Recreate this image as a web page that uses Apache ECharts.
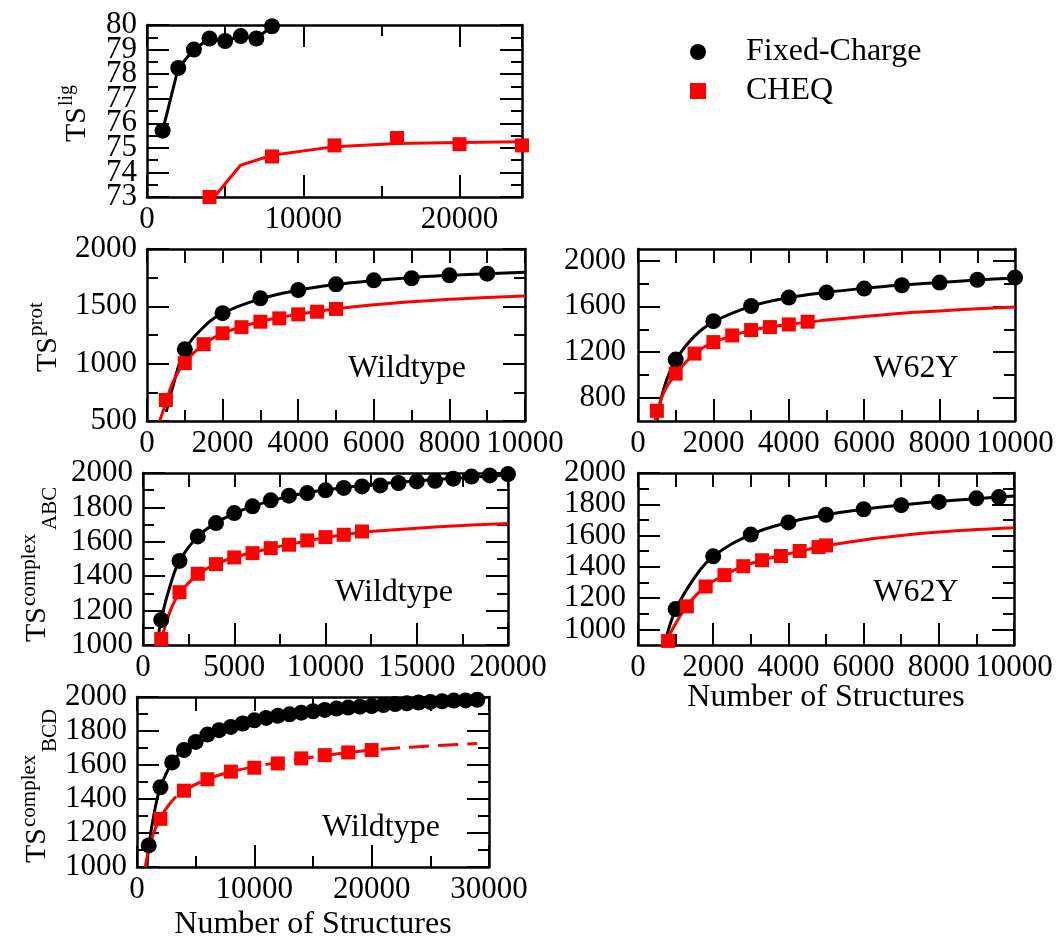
<!DOCTYPE html>
<html>
<head>
<meta charset="utf-8">
<script src="https://cdn.jsdelivr.net/npm/echarts@6/dist/echarts.min.js"></script>
<style>
  html, body { margin: 0; padding: 0; background: #fff; }
  #main { width: 1060px; height: 943px; }
</style>
</head>
<body>
<div id="main"></div>
<script>
// values, [structures, TS]

// ligand
var ligFixed = [[1000, 75.7], [2000, 78.25], [3000, 79.0], [4000, 79.45], [5000, 79.35], [6000, 79.55], [7000, 79.45], [8000, 79.95]];
var ligCheq = [[4000, 73.0], [8000, 74.65], [12000, 75.1], [16000, 75.4], [20000, 75.15], [24000, 75.1]];
var ligCheqFit = [[4300, 73.0], [6000, 74.3], [8000, 74.7], [12000, 75.05], [16000, 75.18], [20000, 75.22], [24000, 75.25]];

// protein, wildtype
var protWtFixed = [[1000, 1125], [2000, 1440], [3000, 1570], [4000, 1642], [5000, 1692], [6000, 1727], [7000, 1745], [8000, 1770], [9000, 1785]];
var protWtCheq = [[500, 683], [1000, 1005], [1500, 1170], [2000, 1265], [2500, 1318], [3000, 1366], [3500, 1395], [4000, 1430], [4500, 1453], [5000, 1477]];
var protWtFixedFit = [[510, 580], [690, 810], [1000, 1115], [1500, 1320], [2000, 1440], [3000, 1565], [4000, 1640], [5000, 1690], [6000, 1725], [7000, 1752], [8000, 1770], [9000, 1785], [10000, 1797]];
var protWtCheqFit = [[335, 500], [500, 660], [700, 850], [1000, 1010], [1500, 1170], [2000, 1265], [3000, 1368], [4000, 1430], [5000, 1477], [6000, 1513], [7000, 1540], [8000, 1562], [9000, 1578], [10000, 1590]];

// protein, W62Y
var protMutFixed = [[1000, 1136], [2000, 1471], [3000, 1603], [4000, 1676], [5000, 1720], [6000, 1755], [7000, 1784], [8000, 1807], [9000, 1831], [10000, 1851]];
var protMutCheq = [[500, 689], [1000, 1013], [1500, 1188], [2000, 1288], [2500, 1346], [3000, 1393], [3500, 1419], [4000, 1442], [4500, 1466]];
var protMutFixedFit = [[500, 600], [700, 900], [1000, 1130], [1500, 1340], [2000, 1465], [3000, 1600], [4000, 1675], [5000, 1722], [6000, 1757], [7000, 1785], [8000, 1808], [9000, 1830], [10000, 1848]];
var protMutCheqFit = [[460, 600], [500, 660], [700, 860], [1000, 1010], [1500, 1185], [2000, 1285], [3000, 1390], [4000, 1442], [5000, 1480], [6000, 1512], [7000, 1540], [8000, 1560], [9000, 1578], [10000, 1594]];

// complex ABC, wildtype
var abcWtFixed = [[1000, 1146], [2000, 1489], [3000, 1631], [4000, 1709], [5000, 1767], [6000, 1806], [7000, 1841], [8000, 1868], [9000, 1883], [10000, 1899],
    [11000, 1913], [12000, 1922], [13000, 1928], [14000, 1942], [15000, 1951], [16000, 1955], [17000, 1967], [18000, 1979], [19000, 1986], [20000, 1994]];
var abcWtCheq = [[1000, 1035], [2000, 1307], [3000, 1414], [4000, 1470], [5000, 1509], [6000, 1534], [7000, 1563], [8000, 1583], [9000, 1608], [10000, 1627], [11000, 1641], [12000, 1660]];
var abcWtFixedFit = [[780, 1000], [1000, 1150], [1500, 1350], [2000, 1489], [3000, 1631], [4000, 1709], [5000, 1765], [6000, 1806], [7000, 1838], [8000, 1864], [9000, 1885], [10000, 1902], [12000, 1928], [14000, 1947], [16000, 1962], [18000, 1975], [20000, 1988]];
var abcWtCheqFit = [[780, 1000], [1000, 1040], [1500, 1200], [2000, 1300], [3000, 1410], [4000, 1470], [5000, 1510], [6000, 1537], [7000, 1562], [8000, 1585], [9000, 1605], [10000, 1625], [12000, 1655], [14000, 1672], [16000, 1686], [18000, 1697], [20000, 1707]];

// complex ABC, W62Y
var abcMutFixed = [[1000, 1130], [2000, 1467], [3000, 1606], [4000, 1684], [5000, 1733], [6000, 1768], [7000, 1794], [8000, 1815], [9000, 1838], [9600, 1846]];
var abcMutCheq = [[800, 926], [1300, 1147], [1800, 1274], [2300, 1347], [2800, 1404], [3300, 1442], [3800, 1469], [4300, 1501], [4800, 1526], [5000, 1537]];
var abcMutFixedFit = [[700, 900], [1000, 1125], [1500, 1330], [2000, 1467], [3000, 1606], [4000, 1684], [5000, 1733], [6000, 1768], [7000, 1795], [8000, 1817], [9000, 1836], [10000, 1853]];
var abcMutCheqFit = [[700, 900], [800, 950], [1300, 1150], [1800, 1274], [2300, 1347], [2800, 1404], [3300, 1442], [3800, 1472], [4300, 1500], [5000, 1535], [6000, 1572], [7000, 1600], [8000, 1622], [9000, 1638], [10000, 1650]];

// complex BCD, wildtype
var bcdWtFixed = [[1000, 1127], [2000, 1469], [3000, 1615], [4000, 1688], [5000, 1736], [6000, 1779], [7000, 1805], [8000, 1824], [9000, 1844], [10000, 1863],
    [11000, 1877], [12000, 1889], [13000, 1898], [14000, 1908], [15000, 1916], [16000, 1924], [17000, 1932], [18000, 1938], [19000, 1943], [20000, 1947],
    [21000, 1953], [22000, 1959], [23000, 1963], [24000, 1967], [25000, 1971], [26000, 1975], [27000, 1979], [28000, 1980], [29000, 1984]];
var bcdWtCheq = [[2000, 1283], [4000, 1449], [6000, 1516], [8000, 1561], [10000, 1584], [12000, 1609], [14000, 1639], [16000, 1658], [18000, 1674], [20000, 1688]];
var bcdWtFixedFit = [[850, 1000], [1000, 1120], [1500, 1330], [2000, 1469], [3000, 1615], [4000, 1690], [5000, 1737], [6000, 1775], [8000, 1826], [10000, 1862], [14000, 1908], [18000, 1939], [22000, 1959], [26000, 1975], [29000, 1984]];
var bcdWtCheqFit = [[700, 1000], [1000, 1100], [1500, 1215], [2000, 1290], [3000, 1390], [4000, 1449], [6000, 1516], [8000, 1560], [10000, 1590], [14000, 1637], [18000, 1673], [20000, 1688], [24000, 1708], [29000, 1727]];

// tick labels
var ligXLabels = [0, 10000, 20000];
var ligYLabels = [74, 75, 76, 77, 78, 79], ligYEndLabels = [73, 80];
var x10kLabels = [0, 2000, 4000, 6000, 8000, 10000];
var x20kLabels = [0, 5000, 10000, 15000, 20000];
var x30kLabels = [0, 10000, 20000, 30000];
var protWtYLabels = [500, 1000, 1500, 2000];
var protMutYLabels = [800, 1200, 1600, 2000], protMutYMinor = [1000, 1400, 1800];
var cplxYLabels = [1000, 1200, 1400, 1600, 1800, 2000], cplxYMinor = [1100, 1300, 1500, 1700, 1900];

var FONT = '"Liberation Serif", "Times New Roman", serif';
var RED = '#ff0000';

var panels = [
    { grid: [147, 25, 375, 172],
      x: { min: 0, max: 24000, step: 10000, labels: ligXLabels },
      y: { min: 73, max: 80, step: 1, labels: ligYLabels, endLabels: ligYEndLabels, margin: 10 } },
    { grid: [147, 249, 378, 172],
      x: { min: 0, max: 10000, step: 2000, labels: x10kLabels, topLen: 14 },
      y: { min: 500, max: 2000, step: 500, labels: protWtYLabels, margin: 10 } },
    { grid: [638, 249, 377, 172],
      x: { min: 0, max: 10000, step: 2000, labels: x10kLabels, topLen: 14 },
      y: { min: 600, max: 2100, step: 200, labels: protMutYLabels, minor: protMutYMinor, margin: 12 } },
    { grid: [143, 473, 365, 172],
      x: { min: 0, max: 20000, step: 5000, labels: x20kLabels, topLen: 14 },
      y: { min: 1000, max: 2000, step: 200, labels: cplxYLabels, margin: 10 } },
    { grid: [638, 473, 376, 172],
      x: { min: 0, max: 10000, step: 2000, labels: x10kLabels, topLen: 14, name: 'Number of Structures', nameGap: 37 },
      y: { min: 900, max: 2000, step: 100, labels: cplxYLabels, minor: cplxYMinor, margin: 12 } },
    { grid: [137, 697, 352, 170],
      x: { min: 0, max: 30000, step: 10000, labels: x30kLabels, topLen: 14, name: 'Number of Structures', nameGap: 42 },
      y: { min: 1000, max: 2000, step: 200, labels: cplxYLabels, margin: 10 } }
];

var tickLine = { color: '#000', width: 2 };
var frameLine = { color: '#000', width: 2.5 };

function labelStyle(spec, values) {
    return {
        show: true, showMinLabel: true, showMaxLabel: true, hideOverlap: false,
        margin: spec.margin || 7, fontSize: 31, fontFamily: FONT, color: '#000',
        formatter: function (v) { return values.indexOf(v) >= 0 ? String(v) : ''; }
    };
}

// one axis per side of the panel; ticks point inward like the original
function frameAxis(gi, pos, spec, mirror) {
    var len = (mirror && spec.topLen) ? spec.topLen : 22;
    var shortLen = (mirror && spec.topLen) ? spec.topLen : 11;
    var ax = {
        type: 'value', gridIndex: gi, position: pos,
        min: spec.min, max: spec.max, interval: spec.step,
        axisLine: { show: true, onZero: false, lineStyle: frameLine },
        splitLine: { show: false },
        axisTick: { show: true, inside: true, length: len, lineStyle: tickLine },
        minorTick: { show: !spec.minor, splitNumber: 2, length: shortLen, lineStyle: tickLine },
        axisLabel: mirror ? { show: false } : labelStyle(spec, spec.labels)
    };
    if (spec.minor) ax.axisTick.customValues = spec.labels;
    if (!mirror && spec.name) {
        ax.name = spec.name;
        ax.nameLocation = 'middle';
        ax.nameGap = spec.nameGap;
        ax.nameMoveOverlap = false;
        ax.nameTextStyle = { fontSize: 32, fontFamily: FONT, color: '#000' };
    }
    return ax;
}

// helper y axis in an overlaid grid: short ticks between the labelled ones, or the end labels
function helperAxis(gi, pos, spec) {
    return {
        type: 'value', gridIndex: gi, position: pos,
        min: spec.min, max: spec.max, interval: spec.step,
        axisLine: { show: false, onZero: false },
        splitLine: { show: false },
        axisTick: spec.minor
            ? { show: true, inside: true, length: 11, customValues: spec.minor, lineStyle: tickLine }
            : { show: false },
        axisLabel: (pos === 'left' && spec.endLabels) ? labelStyle(spec, spec.endLabels) : { show: false }
    };
}

var grids = [], xAxes = [], yAxes = [];
panels.forEach(function (p) {
    var rect = { left: p.grid[0], top: p.grid[1], width: p.grid[2], height: p.grid[3],
        show: false, containLabel: false, outerBoundsMode: 'none' };
    var gi = grids.length;
    grids.push(rect);
    p.xIndex = xAxes.length;
    p.yIndex = yAxes.length;
    xAxes.push(frameAxis(gi, 'bottom', p.x, false), frameAxis(gi, 'top', p.x, true));
    yAxes.push(frameAxis(gi, 'left', p.y, false), frameAxis(gi, 'right', p.y, true));
    if (p.y.minor || p.y.endLabels) {
        var hb = grids.length;
        grids.push(Object.assign({}, rect));
        xAxes.push({ type: 'value', gridIndex: hb, min: p.x.min, max: p.x.max, show: false });
        yAxes.push(helperAxis(hb, 'left', p.y), helperAxis(hb, 'right', p.y));
    }
});

function fitLine(p, data, color, smooth, dashed) {
    return {
        type: 'line', name: color === RED ? 'CHEQ fit' : 'Fixed-Charge fit',
        xAxisIndex: p.xIndex, yAxisIndex: p.yIndex, data: data,
        showSymbol: false, smooth: smooth ? 0.4 : false,
        lineStyle: { color: color, width: 3, type: dashed ? [20, 9] : 'solid' },
        itemStyle: { color: color }, silent: true, animation: false, z: 2
    };
}
function marks(p, data, cheq) {
    return {
        type: 'scatter', name: cheq ? 'CHEQ' : 'Fixed-Charge',
        xAxisIndex: p.xIndex, yAxisIndex: p.yIndex, data: data,
        symbol: cheq ? 'rect' : 'circle', symbolSize: cheq ? 14 : 16,
        itemStyle: { color: cheq ? RED : '#000', opacity: 1 },
        animation: false, z: cheq ? 4 : 3
    };
}

var P = panels;
var series = [
    fitLine(P[0], ligFixed, '#000', false), marks(P[0], ligFixed, false),
    fitLine(P[0], ligCheqFit, RED, false), marks(P[0], ligCheq, true),

    fitLine(P[1], protWtFixedFit, '#000', true), marks(P[1], protWtFixed, false),
    fitLine(P[1], protWtCheqFit, RED, true), marks(P[1], protWtCheq, true),

    fitLine(P[2], protMutFixedFit, '#000', true), marks(P[2], protMutFixed, false),
    fitLine(P[2], protMutCheqFit, RED, true), marks(P[2], protMutCheq, true),

    fitLine(P[3], abcWtFixedFit, '#000', true), marks(P[3], abcWtFixed, false),
    fitLine(P[3], abcWtCheqFit, RED, true), marks(P[3], abcWtCheq, true),

    fitLine(P[4], abcMutFixedFit, '#000', true), marks(P[4], abcMutFixed, false),
    fitLine(P[4], abcMutCheqFit, RED, true), marks(P[4], abcMutCheq, true),

    fitLine(P[5], bcdWtFixedFit, '#000', true), marks(P[5], bcdWtFixed, false),
    fitLine(P[5], bcdWtCheqFit, RED, true, true), marks(P[5], bcdWtCheq, true)
];

function label(text, x, y) {
    return { type: 'text', x: x, y: y, silent: true,
        style: { text: text, font: '32px ' + FONT, fill: '#000', align: 'center', verticalAlign: 'middle' } };
}
// rotated axis titles, pieces placed one after another
function vtext(text, size, x, y) {
    return { type: 'text', x: x, y: y, rotation: Math.PI / 2, silent: true,
        style: { text: text, font: size + 'px ' + FONT, fill: '#000', align: 'left', verticalAlign: 'middle' } };
}

var chart = echarts.init(document.getElementById('main'));
chart.setOption({
    backgroundColor: '#fff',
    animation: false,
    grid: grids,
    xAxis: xAxes,
    yAxis: yAxes,
    series: series,
    legend: {
        data: [{ name: 'Fixed-Charge', icon: 'circle' }, { name: 'CHEQ', icon: 'path://M0,0L10,0L10,10L0,10Z' }],
        orient: 'vertical', left: 685, top: 31,
        itemWidth: 86, itemHeight: 16, itemGap: 7, symbolKeepAspect: true,
        selectedMode: false,
        textStyle: { fontSize: 32, fontFamily: FONT, color: '#000' }
    },
    graphic: [
        label('Wildtype', 407, 369), label('W62Y', 916, 369),
        label('Wildtype', 394, 593), label('W62Y', 916, 593),
        label('Wildtype', 381, 828),
        vtext('TS', 30, 77, 142), vtext('lig', 20, 67, 106),
        vtext('TS', 30, 48, 372), vtext('prot', 21, 36, 336),
        vtext('TS', 30, 37, 642), vtext('complex', 21, 29, 606), vtext('ABC', 21, 50, 530),
        vtext('TS', 30, 37, 863), vtext('complex', 21, 29, 827), vtext('BCD', 21, 50, 752)
    ]
});
</script>
</body>
</html>
